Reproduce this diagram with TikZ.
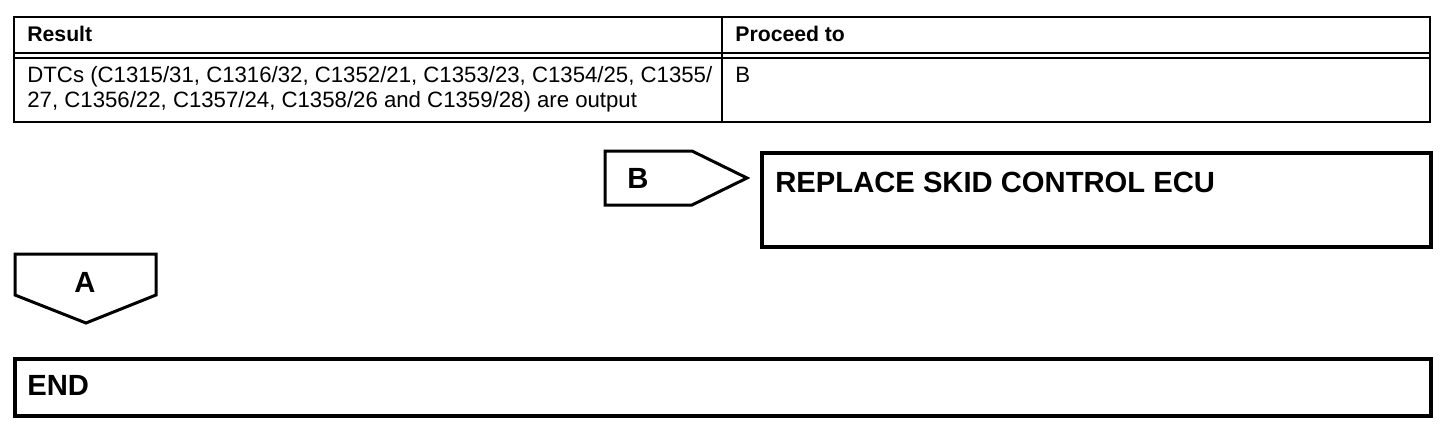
\documentclass[tikz,border=0pt]{standalone}
\usepackage{fontspec}
\setmainfont{Liberation Sans}
\begin{document}
\begin{tikzpicture}[x=0.5pt,y=-0.5pt,
  tbl/.style={line width=1.2pt},
  tag/.style={line width=1.5pt, line join=miter},
  stepbox/.style={line width=2pt},
  cell/.style={inner sep=0pt, anchor=base west, font=\fontsize{11.1}{12.5}\selectfont},
  hcell/.style={inner sep=0pt, anchor=base west, font=\fontsize{10.6}{12.5}\selectfont\bfseries},
  big/.style={inner sep=0pt, font=\fontsize{14.6}{17}\selectfont\bfseries}]
\useasboundingbox (0,0) rectangle (1456,436);
% table
\draw[tbl] (14,17) rectangle (1430,122);
\draw[tbl] (14,53) -- (1430,53);
\draw[tbl] (14,58) -- (1430,58);
\draw[tbl] (722,17) -- (722,122);
\node[hcell] (hres) at (27,41) {Result};
\node[hcell] (hpro) at (735,41) {Proceed to};
\node[cell, align=left] (res1) at (27,107) {DTCs (C1315/31, C1316/32, C1352/21, C1353/23, C1354/25, C1355/\\27, C1356/22, C1357/24, C1358/26 and C1359/28) are output};
\node[cell] (pro1) at (735,82) {B};
% B tag
\draw[tag] (605,151) -- (692,151) -- (747,178) -- (692,205) -- (605,205) -- cycle;
\node[big, anchor=base] (bl) at (638,188) {B};
% replace box
\draw[stepbox] (762,153) rectangle (1431,247);
\node[big, anchor=base west] (rep) at (775,192) {REPLACE SKID CONTROL ECU};
% A tag
\draw[tag] (15,254) -- (156,254) -- (156,295) -- (86,323) -- (15,295) -- cycle;
\node[big, anchor=base] (al) at (85,292) {A};
% END box
\draw[stepbox] (15,359) rectangle (1431,416);
\node[big, anchor=base west] (endl) at (27,395) {END};
\end{tikzpicture}
\end{document}
